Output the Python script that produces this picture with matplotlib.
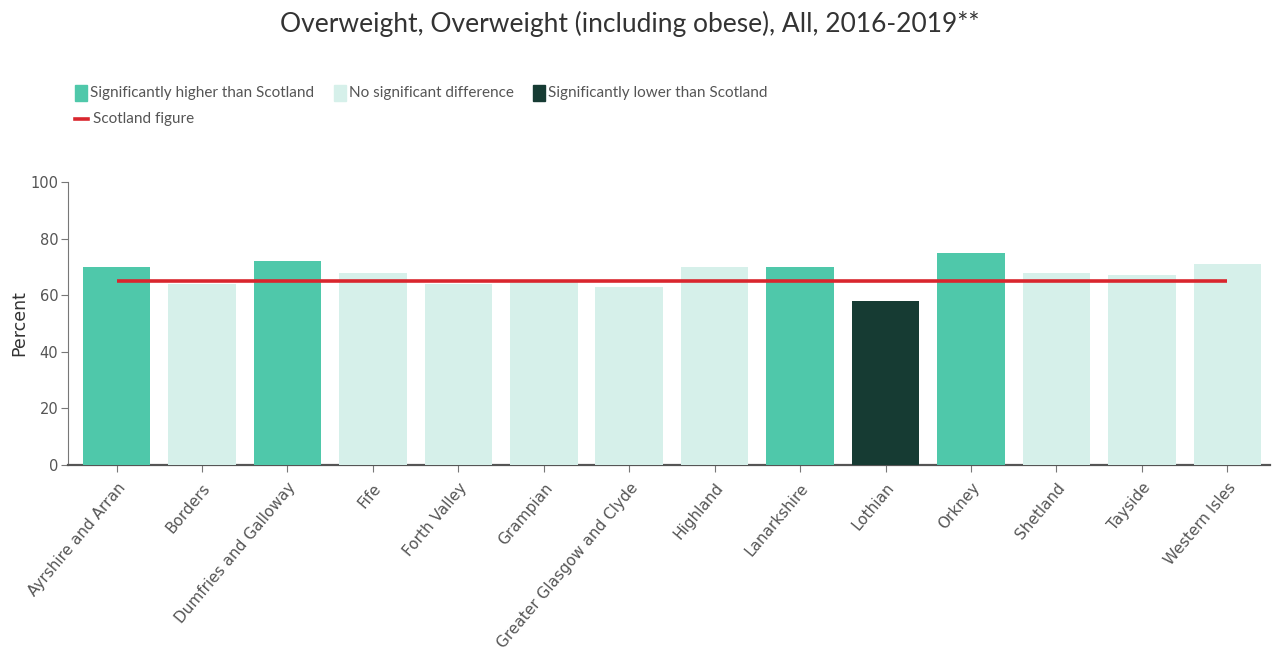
import matplotlib.pyplot as plt
from matplotlib.patches import Rectangle
from matplotlib.lines import Line2D

# Data
boards = ['Ayrshire and Arran', 'Borders', 'Dumfries and Galloway', 'Fife',
          'Forth Valley', 'Grampian', 'Greater Glasgow and Clyde', 'Highland',
          'Lanarkshire', 'Lothian', 'Orkney', 'Shetland', 'Tayside',
          'Western Isles']
percent = [70, 64, 72, 68, 64, 65, 63, 70, 70, 58, 75, 68, 67, 71]
significance = ['higher', 'none', 'higher', 'none', 'none', 'none', 'none',
                'none', 'higher', 'lower', 'higher', 'none', 'none', 'none']
scotland_figure = 65

sig_colours = {'higher': '#4fc8aa', 'none': '#d6f0ea', 'lower': '#163b33'}
legend_labels = ['Significantly higher than Scotland', 'No significant difference',
                 'Significantly lower than Scotland']

TEXT_FONT = ['Lato', 'DejaVu Sans']
AXIS_FONT = 'DejaVu Sans'

fig = plt.figure(figsize=(12.77, 6.57), dpi=100)
ax = fig.add_axes([0.0532, 0.2922, 0.9413, 0.4308])

x = list(range(len(boards)))
ax.bar(x, percent, width=0.79, color=[sig_colours[s] for s in significance],
       zorder=3)
ax.plot([x[0], x[-1]], [scotland_figure, scotland_figure], color='#d9262e',
        lw=2.6, zorder=4, solid_capstyle='butt')

ax.set_xlim(-0.57, len(boards) - 0.5)
ax.set_ylim(0, 100)
ax.set_yticks([0, 20, 40, 60, 80, 100])
ax.set_yticklabels(['0', '20', '40', '60', '80', '100'], family=AXIS_FONT,
                   fontsize=10.5, color='#555555')
ax.set_xticks(x)
ax.set_xticklabels(boards, rotation=50, ha='right', va='top',
                   rotation_mode='anchor', fontsize=11, color='#555555',
                   family=AXIS_FONT)
ax.tick_params(axis='y', color='#777777', length=5, pad=2)
ax.tick_params(axis='x', color='#777777', length=5, pad=6)
for side in ['top', 'right']:
    ax.spines[side].set_visible(False)
ax.spines['left'].set_color('#777777')
ax.spines['bottom'].set_color('#555555')
ax.spines['bottom'].set_linewidth(1.6)
ax.set_ylabel('Percent', fontsize=12.5, color='#333333', family=AXIS_FONT)
ax.yaxis.set_label_coords(-0.033, 0.5)

fig.text(0.493, 0.963, 'Overweight, Overweight (including obese), All, 2016-2019**',
         ha='center', va='center', fontsize=19, family=TEXT_FONT, color='#333333')

# Legend drawn by hand to follow the reference layout
leg_x = [75, 334, 533]
for lx, lab, key in zip(leg_x, legend_labels, ['higher', 'none', 'lower']):
    fig.patches.append(Rectangle((lx / 1277, 1 - 101 / 657), 12 / 1277, 16 / 657,
                                 transform=fig.transFigure,
                                 color=sig_colours[key]))
    fig.text((lx + 15) / 1277, 1 - 93 / 657, lab, ha='left', va='center',
             fontsize=11, family=TEXT_FONT, color='#555555')
fig.lines.append(Line2D([75 / 1277, 88 / 1277], [1 - 119 / 657, 1 - 119 / 657],
                        transform=fig.transFigure, color='#d9262e', lw=2.6))
fig.text(93 / 1277, 1 - 119 / 657, 'Scotland figure', ha='left', va='center',
         fontsize=11, family=TEXT_FONT, color='#555555')

fig.savefig('out.png', dpi=100)
